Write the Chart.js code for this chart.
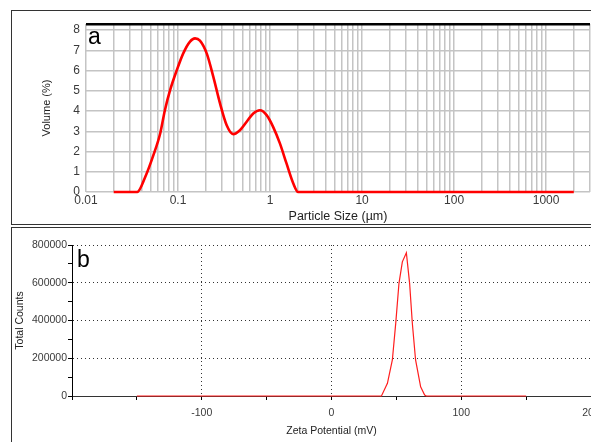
<!DOCTYPE html>
<html>
<head>
<meta charset="utf-8">
<script src="https://cdn.jsdelivr.net/npm/chart.js@4/dist/chart.umd.min.js"></script>
<style>
  html, body { margin: 0; padding: 0; background: #fff; width: 591px; height: 442px; overflow: hidden; }
  .frame { position: absolute; border: 1px solid #333; border-right: none; }
  #frameA { left: 11px; top: 10px; width: 600px; height: 213px; }
  #frameB { left: 11px; top: 227px; width: 600px; height: 300px; border-bottom: none; }
  canvas { position: absolute; left: 0; }
  #chartA { top: 0; }
  #chartB { top: 227px; }
</style>
</head>
<body>
<div class="frame" id="frameA"></div>
<div class="frame" id="frameB"></div>
<canvas id="chartA" width="591" height="224"></canvas>
<canvas id="chartB" width="620" height="215"></canvas>
<script>
// panel a: particle size distribution
const sizeUm = [0.02, 0.03, 0.036, 0.044, 0.054, 0.064, 0.072, 0.082, 0.097, 0.114, 0.135, 0.153, 0.173,
    0.205, 0.242, 0.286, 0.338, 0.398, 0.471, 0.557, 0.657, 0.776, 0.918, 1.08, 1.28, 1.51, 1.79, 2.02,
    5, 50, 500, 2000];
const volumePct = [0, 0, 0, 0.74, 1.82, 2.89, 4.04, 5.03, 6.02, 6.85, 7.43, 7.59, 7.48,
    6.85, 5.69, 4.38, 3.30, 2.86, 3.05, 3.47, 3.88, 4.04, 3.80, 3.22, 2.40, 1.41, 0.42, 0,
    0, 0, 0, 0];
const sizeDecades = [0.01, 0.1, 1, 10, 100, 1000];
const sizeTickLabels = ['0.01', '0.1', '1', '10', '100', '1000'];
const sizeMax = 3000;
const volumeTicks = [0, 1, 2, 3, 4, 5, 6, 7, 8];
const volumeMax = 8.3;

// panel b: zeta potential distribution
const zetaMv = [-150, 38.5, 43.1, 46.9, 49.5, 52.0, 54.6, 57.7, 60.2, 62.3, 64.8, 68.7, 71.8, 73.1, 150];
const totalCounts = [0, 0, 67000, 191000, 385000, 597000, 711000, 759000, 597000, 385000, 191000, 49000, 5000, 0, 0];

const letterPlugin = {
    id: 'panelLetter',
    afterDraw(chart, args, opts) {
        const ctx = chart.ctx;
        ctx.save();
        ctx.font = '23px "Liberation Sans", Arial, sans-serif';
        ctx.fillStyle = '#000';
        ctx.textBaseline = 'alphabetic';
        ctx.fillText(opts.text, opts.x, opts.y);
        ctx.restore();
    },
};

const font = 'Liberation Sans, Arial, sans-serif';
const tickGray = '#3a3a3a';

// log grid: 1..9 per decade
const sizeGrid = [];
sizeDecades.forEach((d) => {
    for (let k = 1; k <= 9; k++) {
        const v = +(k * d).toPrecision(3);
        if (v <= sizeMax) sizeGrid.push(v);
    }
});

new Chart(document.getElementById('chartA'), {
    type: 'line',
    data: {
        datasets: [{
            data: sizeUm.map((s, i) => ({ x: s, y: volumePct[i] })),
            borderColor: '#ff0000',
            borderWidth: 2.6,
            pointRadius: 0,
            cubicInterpolationMode: 'monotone',
            clip: false,
        }],
    },
    options: {
        responsive: false,
        animation: false,
        devicePixelRatio: 1,
        layout: { padding: { top: 24, right: 1, left: 0, bottom: 0 } },
        plugins: {
            legend: { display: false },
            tooltip: { enabled: false },
            panelLetter: { text: 'a', x: 88, y: 44 },
        },
        scales: {
            x: {
                type: 'logarithmic',
                min: 0.01,
                max: sizeMax,
                afterBuildTicks: (s) => { s.ticks = sizeGrid.map((v) => ({ value: v })); },
                afterFit: (s) => { s.height = 32; },
                border: { display: false },
                grid: { color: '#c4c4c4', lineWidth: 1.5, drawTicks: false },
                ticks: {
                    autoSkip: false,
                    maxRotation: 0,
                    padding: 1,
                    color: tickGray,
                    font: { family: font, size: 12 },
                    callback: (v) => {
                        const i = sizeDecades.findIndex((d) => Math.abs(d - v) < d * 1e-6);
                        return i >= 0 ? sizeTickLabels[i] : '';
                    },
                },
                title: {
                    display: true,
                    text: 'Particle Size (µm)',
                    color: '#222',
                    font: { family: font, size: 12.5 },
                    padding: { top: 0, bottom: 0 },
                },
            },
            y: {
                min: 0,
                max: volumeMax,
                afterBuildTicks: (s) => { s.ticks = volumeTicks.concat([volumeMax]).map((v) => ({ value: v })); },
                afterFit: (s) => { s.width = 86; },
                border: { display: false },
                grid: {
                    color: (c) => (c.tick && c.tick.value > 8 ? '#000' : '#c4c4c4'),
                    lineWidth: (c) => (c.tick && c.tick.value > 8 ? 2.5 : 1.5),
                    drawTicks: false,
                },
                ticks: {
                    padding: 6,
                    color: tickGray,
                    font: { family: font, size: 12 },
                    callback: (v) => (v > 8 ? '' : String(v)),
                },
                title: {
                    display: true,
                    text: 'Volume (%)',
                    color: '#222',
                    font: { family: font, size: 11 },
                    padding: { top: 40, bottom: 0 },
                },
            },
        },
    },
    plugins: [letterPlugin],
});

new Chart(document.getElementById('chartB'), {
    type: 'line',
    data: {
        datasets: [{
            data: zetaMv.map((z, i) => ({ x: z, y: totalCounts[i] })),
            borderColor: 'rgb(255, 30, 30)',
            borderWidth: 1.2,
            pointRadius: 0,
            tension: 0,
            clip: false,
        }],
    },
    options: {
        responsive: false,
        animation: false,
        devicePixelRatio: 1,
        layout: { padding: { top: 18, right: 29, left: 0, bottom: 0 } },
        plugins: {
            legend: { display: false },
            tooltip: { enabled: false },
            panelLetter: { text: 'b', x: 77, y: 40 },
        },
        scales: {
            x: {
                type: 'linear',
                min: -200,
                max: 200,
                afterFit: (s) => { s.height = 46; },
                border: { display: true, color: '#333', width: 1, dash: [1, 3] },
                grid: {
                    color: (c) => (c.tick && c.tick.value % 100 === 0 && c.tick.value > -200 ? '#333' : 'rgba(0,0,0,0)'),
                    lineWidth: 1,
                    drawTicks: true,
                    tickLength: 4,
                    tickColor: '#000',
                    tickBorderDash: [],
                },
                ticks: {
                    stepSize: 50,
                    autoSkip: false,
                    maxRotation: 0,
                    padding: 7,
                    color: tickGray,
                    font: { family: font, size: 10.5 },
                    callback: (v) => (v % 100 === 0 && v > -200 ? String(v) : ''),
                },
                title: {
                    display: true,
                    text: 'Zeta Potential (mV)',
                    color: '#222',
                    font: { family: font, size: 10.5 },
                    padding: { top: 0, bottom: 5 },
                },
            },
            y: {
                min: 0,
                max: 800000,
                afterFit: (s) => { s.width = 72; },
                border: { display: true, color: '#000', width: 1, dash: [1, 3] },
                grid: {
                    color: (c) => (c.tick && c.tick.value % 200000 === 0 && c.tick.value > 0 ? '#333' : 'rgba(0,0,0,0)'),
                    lineWidth: 1,
                    drawTicks: true,
                    tickLength: 4,
                    tickColor: '#000',
                    tickBorderDash: [],
                },
                ticks: {
                    stepSize: 100000,
                    autoSkip: false,
                    padding: 1,
                    color: tickGray,
                    font: { family: font, size: 10.5 },
                    callback: (v) => (v % 200000 === 0 ? String(v) : ''),
                },
                title: {
                    display: true,
                    text: 'Total Counts',
                    color: '#222',
                    font: { family: font, size: 10.5 },
                    padding: { top: 13.4, bottom: 0 },
                },
            },
        },
    },
    plugins: [letterPlugin],
});
</script>
</body>
</html>
